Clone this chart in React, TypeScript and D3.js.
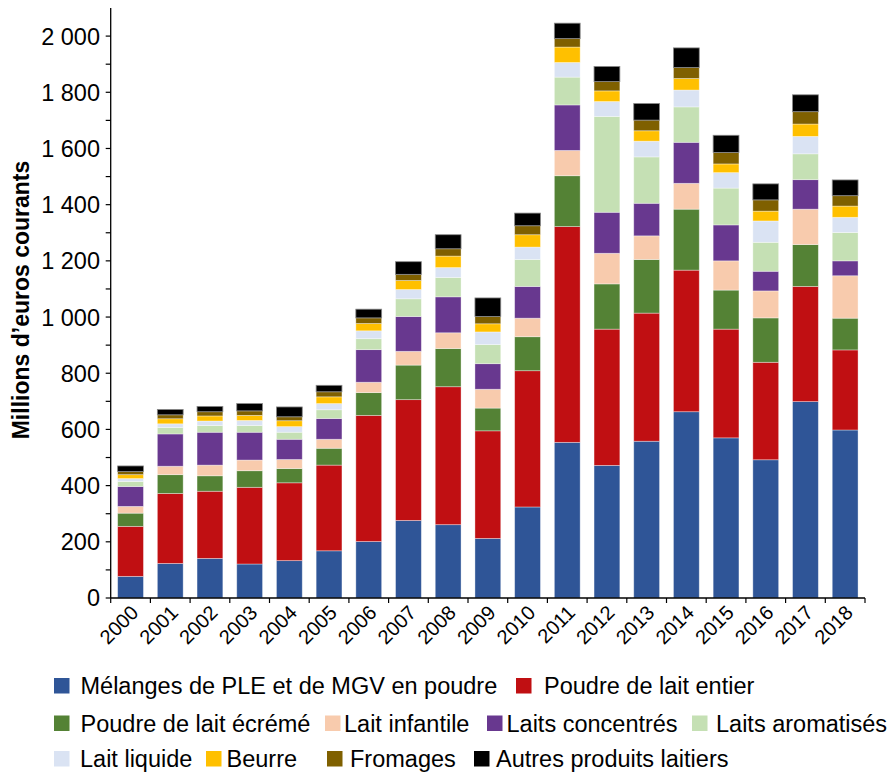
import React, { useEffect } from "react";
import * as d3 from "d3";

const years = ["2000","2001","2002","2003","2004","2005","2006","2007","2008","2009","2010","2011","2012","2013","2014","2015","2016","2017","2018"];

const seriesNames = [
  "Mélanges de PLE et de MGV en poudre",
  "Poudre de lait entier",
  "Poudre de lait écrémé",
  "Lait infantile",
  "Laits concentrés",
  "Laits aromatisés",
  "Lait liquide",
  "Beurre",
  "Fromages",
  "Autres produits laitiers",
];

const melanges = [77,123,141,121,133,168,201,276,261,212,324,554,472,558,663,570,492,699,598];
const poudreEntier = [178,249,239,273,277,305,449,430,491,383,485,768,485,456,504,387,347,410,285];
const poudreEcreme = [47,67,55,59,51,60,81,123,136,81,121,181,161,191,217,139,158,149,113];
const laitInfantile = [24,30,38,38,32,32,37,49,56,67,66,90,109,84,92,104,96,126,151];
const laitsConcentres = [71,115,117,99,72,74,116,124,128,91,113,162,146,116,146,128,70,105,53];
const laitsAromatises = [18,23,24,24,25,31,39,63,69,68,96,99,341,165,126,131,103,92,101];
const laitLiquide = [10,13,16,18,20,22,28,33,35,45,44,52,53,56,60,55,76,62,54];
const beurre = [14,18,18,18,21,24,26,32,41,29,44,55,38,37,41,31,35,44,40];
const fromages = [11,14,15,16,14,18,20,22,26,26,32,30,33,38,39,41,40,44,37];
const autres = [20,19,19,26,35,23,31,45,50,66,45,55,54,59,70,61,57,60,56];

const seriesValues = [melanges, poudreEntier, poudreEcreme, laitInfantile, laitsConcentres, laitsAromatises, laitLiquide, beurre, fromages, autres];

const colors = ["#2F5597","#C00F12","#548235","#F8CBAD","#68388F","#C5E0B4","#DAE3F3","#FFC000","#7F6000","#000000"];

const yTicks = [0,200,400,600,800,1000,1200,1400,1600,1800,2000];
const yMinorTicks = d3.range(0, 2100, 100);

// legend layout (row, square x, text x)
const legendLayout = [
  { row: 0, sx: 54, tx: 80.5 },
  { row: 0, sx: 516, tx: 544 },
  { row: 1, sx: 54, tx: 80.5 },
  { row: 1, sx: 325, tx: 344 },
  { row: 1, sx: 487, tx: 506.5 },
  { row: 1, sx: 692, tx: 716 },
  { row: 2, sx: 54, tx: 80 },
  { row: 2, sx: 206, tx: 226.5 },
  { row: 2, sx: 327, tx: 350 },
  { row: 2, sx: 474, tx: 496 },
];
const legendBaselines = [694, 731.5, 767];

const FONT = "'Liberation Sans', Arial, sans-serif";

export default function App() {
  useEffect(() => {
    document.body.style.margin = "0";
  }, []);

  const W = 887, H = 774;
  const left = 110.7, right = 865, y0 = 598, yTop = 8;

  const x = d3.scaleBand<string>().domain(years).range([left, right]).paddingInner(0.35).paddingOuter(0.175);
  const y = d3.scaleLinear().domain([0, 2100]).range([y0, yTop]);

  const table = years.map((yr, i) => {
    const row: any = { year: yr };
    seriesNames.forEach((n, k) => (row[n] = seriesValues[k][i]));
    return row;
  });
  const stacked = d3.stack<any>().keys(seriesNames)(table);

  const fmt = (v: number) => d3.format(",")(v).replace(/,/g, "\u00A0");
  const step = x.step();

  return (
    <svg width={W} height={H} style={{ display: "block", position: "absolute", left: 0, top: 0, background: "#fff" }} fontFamily={FONT}>
      {/* bars */}
      {stacked.map((layer, k) => (
        <g key={k} fill={colors[k]}>
          {layer.map((d, i) => (
            <rect
              key={i}
              x={x(years[i])}
              width={x.bandwidth()}
              y={y(d[1])}
              height={Math.max(0, y(d[0]) - y(d[1]))}
              stroke={k === 9 ? "#888" : "rgba(255,255,255,0.45)"}
              strokeWidth={0.8}
            />
          ))}
        </g>
      ))}

      {/* y axis */}
      <line x1={left} x2={left} y1={yTop} y2={y0} stroke="#000" strokeWidth={1.3} />
      {yMinorTicks.map((t) => (
        <line key={t} x1={left - 5} x2={left} y1={y(t)} y2={y(t)} stroke="#000" strokeWidth={1.2} />
      ))}
      {yTicks.map((t) => (
        <text key={t} x={100} y={y(t)} dy="0.36em" textAnchor="end" fontSize={23.5} fill="#000">
          {fmt(t)}
        </text>
      ))}
      <text transform={`translate(29,300) rotate(-90)`} textAnchor="middle" fontSize={23} fontWeight="bold" fill="#000">
        Millions d’euros courants
      </text>

      {/* x axis */}
      <line x1={left} x2={right} y1={y0} y2={y0} stroke="#000" strokeWidth={1.3} />
      {d3.range(years.length + 1).map((i) => (
        <line key={i} x1={left + i * step} x2={left + i * step} y1={y0} y2={y0 + 5} stroke="#000" strokeWidth={1.2} />
      ))}
      {years.map((yr) => (
        <text
          key={yr}
          transform={`translate(${(x(yr) as number) + x.bandwidth() / 2 + 9},${614}) rotate(-45)`}
          textAnchor="end"
          fontSize={20}
          fill="#000"
        >
          {yr}
        </text>
      ))}

      {/* legend */}
      {seriesNames.map((n, k) => {
        const L = legendLayout[k];
        const b = legendBaselines[L.row];
        return (
          <g key={n}>
            <rect x={L.sx} y={b - 16} width={15.5} height={15.5} fill={colors[k]} />
            <text x={L.tx} y={b} fontSize={23.5} fill="#000">
              {n}
            </text>
          </g>
        );
      })}
    </svg>
  );
}
